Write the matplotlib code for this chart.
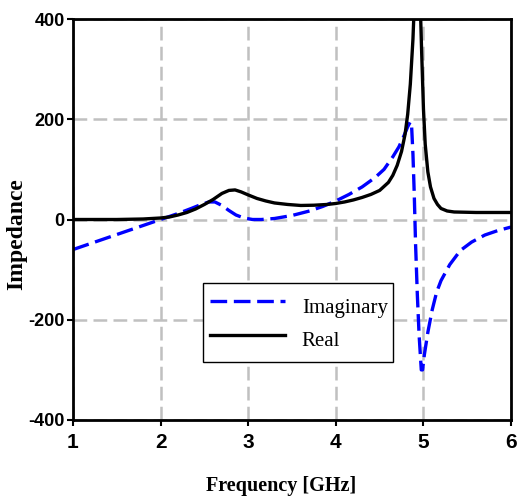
import numpy as np
import matplotlib.pyplot as plt

plt.rcParams['axes.unicode_minus'] = False

# Real part
f_real = [1.0, 1.5, 1.8, 2.0, 2.1, 2.2, 2.3, 2.4, 2.5, 2.6, 2.7, 2.78, 2.85, 2.92,
          3.0, 3.1, 3.2, 3.3, 3.45, 3.6, 3.75, 3.9, 4.0, 4.1, 4.2, 4.3, 4.4, 4.5,
          4.6, 4.65, 4.7, 4.75, 4.79, 4.82, 4.85, 4.88, 4.9, 4.93, 4.96, 4.98, 5.0,
          5.02, 5.05, 5.08, 5.12, 5.16, 5.2, 5.27, 5.35, 5.6, 6.0]
z_real = [0, 0, 1, 3, 5, 9, 14, 21, 30, 40, 52, 58, 59, 55,
          49, 42, 37, 33, 30, 28, 28.5, 30, 32, 35, 39, 44, 50, 58,
          74, 88, 108, 136, 170, 210, 270, 360, 450, 520, 450, 330, 220,
          150, 95, 65, 42, 30, 22, 17, 15, 14, 14]

# Imaginary part
f_imag = [1.0, 1.2, 1.4, 1.6, 1.8, 2.0, 2.2, 2.35, 2.45, 2.55, 2.62, 2.7, 2.78,
          2.86, 2.95, 3.05, 3.15, 3.3, 3.5, 3.7, 3.85, 4.0, 4.15, 4.3, 4.45, 4.55,
          4.65, 4.72, 4.78, 4.82, 4.85, 4.865, 4.88, 4.895, 4.91, 4.93, 4.95, 4.975,
          4.99, 5.01, 5.05, 5.1, 5.15, 5.2, 5.3, 5.42, 5.55, 5.7, 5.85, 6.0]
z_imag = [-60, -48, -36, -24, -12, 0, 12, 22, 29, 35, 35, 28, 18,
          9, 3, 0, 0, 2, 8, 17, 26, 37, 50, 65, 84, 100,
          125, 145, 168, 185, 195, 185, 130, 50, -50, -150, -230, -300,
          -300, -270, -225, -180, -145, -122, -90, -62, -45, -31, -22, -15]

fig = plt.figure(figsize=(5.21, 5.0), dpi=100)
ax = fig.add_axes([0.140, 0.16, 0.841, 0.802])

ax.plot(f_imag, z_imag, color='#0000ff', lw=2.4, ls=(0, (5, 2)), label='Imaginary')
ax.plot(f_real, z_real, color='black', lw=2.4, label='Real')

ax.set_xlim(1, 6)
ax.set_ylim(-400, 400)
ax.set_xticks([1, 2, 3, 4, 5, 6])
ax.set_yticks([-400, -200, 0, 200, 400])
ax.grid(True, color='#c0c0c0', lw=1.8, ls=(0, (5.5, 2.5)))
ax.set_axisbelow(True)

for s in ax.spines.values():
    s.set_linewidth(2)
ax.tick_params(direction='out', length=4, width=1.5, pad=2)
for lab in ax.get_xticklabels():
    lab.set_fontfamily('Liberation Sans')
    lab.set_fontweight('bold')
    lab.set_fontsize(15)
for lab in ax.get_yticklabels():
    lab.set_fontfamily('Liberation Sans')
    lab.set_fontweight('bold')
    lab.set_fontsize(13)
ax.tick_params(axis='x', pad=5)

ax.set_xlabel('Frequency [GHz]', family='Liberation Serif', weight='bold', fontsize=14.5)
ax.set_ylabel('Impedance', family='Liberation Serif', weight='bold', fontsize=17)
ax.xaxis.set_label_coords(0.476, -0.14)
ax.yaxis.set_label_coords(-0.105, 0.464)

leg = ax.legend(loc='upper left', bbox_to_anchor=(0.297, 0.342, 0.433, 0.0), mode='expand',
                prop={'family': 'Liberation Serif', 'size': 15}, handlelength=3.6,
                handleheight=2.0, handletextpad=0.8, labelspacing=0.05, borderpad=0.34,
                fancybox=False, framealpha=1, edgecolor='black', borderaxespad=0)
leg.get_frame().set_linewidth(1)

fig.savefig('out.png', dpi=100)
